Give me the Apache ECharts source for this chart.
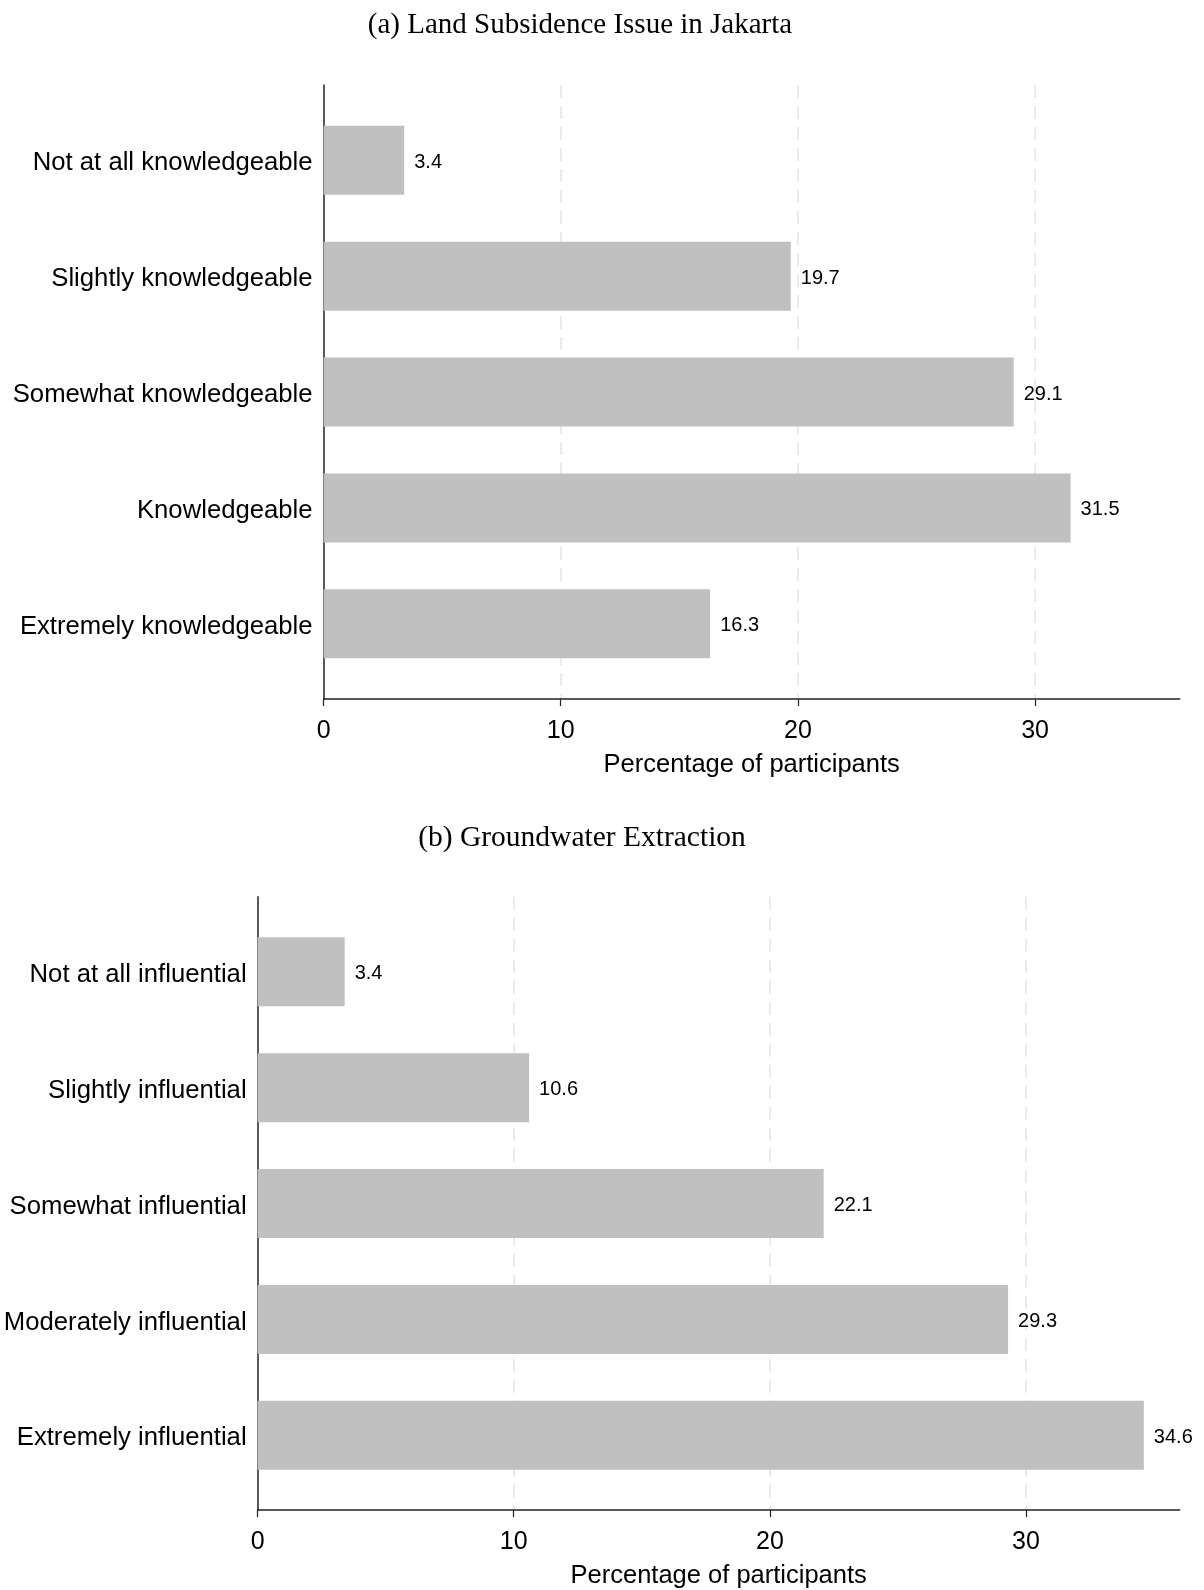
<!DOCTYPE html>
<html>
<head>
<meta charset="utf-8">
<script src="https://cdn.jsdelivr.net/npm/echarts@6/dist/echarts.min.js"></script>
<style>
html,body{margin:0;padding:0;background:#fff;}
#chart{width:1204px;height:1590px;}
</style>
</head>
<body>
<div id="chart"></div>
<script>
const titleA = '(a) Land Subsidence Issue in Jakarta';
const titleB = '(b) Groundwater Extraction';
const categoriesA = ['Not at all knowledgeable','Slightly knowledgeable','Somewhat knowledgeable','Knowledgeable','Extremely knowledgeable'];
const valuesA = [3.4, 19.7, 29.1, 31.5, 16.3];
const categoriesB = ['Not at all influential','Slightly influential','Somewhat influential','Moderately influential','Extremely influential'];
const valuesB = [3.4, 10.6, 22.1, 29.3, 34.6];
const xTicks = [0, 10, 20, 30];
const xName = 'Percentage of participants';

const SANS = "'Liberation Sans', Arial, sans-serif";
const SERIF = "'Liberation Serif', 'Times New Roman', serif";
const BAR = '#c0c0c0';

function axisX(gridIndex, max) {
  return {
    type: 'value', gridIndex: gridIndex, min: 0, max: max, interval: 10,
    axisLine: {show: true, onZero: false, lineStyle: {color: '#222', width: 1.5}},
    axisTick: {show: true, length: 7, customValues: xTicks, lineStyle: {color: '#222', width: 1.2}},
    axisLabel: {show: true, customValues: xTicks, margin: 20, fontSize: 25, color: '#000', fontFamily: SANS},
    splitLine: {show: true, showMinLine: false, showMaxLine: true, lineStyle: {color: '#ebebeb', width: 2, type: [13, 8]}},
    name: xName, nameLocation: 'middle', nameGap: 53,
    nameTextStyle: {fontSize: 25.5, color: '#000', fontFamily: SANS}
  };
}
function hiddenX(gridIndex, max) {
  return {type: 'value', gridIndex: gridIndex, min: 0, max: max, show: false, splitLine: {show: false}};
}
function lineY(gridIndex) {
  return {type: 'value', gridIndex: gridIndex, min: 0, max: 1,
    axisLine: {show: true, onZero: false, lineStyle: {color: '#222', width: 1.5}},
    axisTick: {show: false}, axisLabel: {show: false}, splitLine: {show: false}};
}
function catY(gridIndex, cats) {
  return {type: 'category', gridIndex: gridIndex, data: cats, inverse: true,
    axisLine: {show: false}, axisTick: {show: false}, splitLine: {show: false},
    axisLabel: {margin: 11, color: '#000', fontFamily: SANS, fontSize: 25.7,
      formatter: v => '{c|' + v + '}',
      rich: {c: {fontSize: 25.7, color: '#000', fontFamily: SANS, padding: [6, 0, 0, 0]}}}};
}
function barSeries(idx, vals) {
  return {type: 'bar', xAxisIndex: idx, yAxisIndex: idx, data: vals, barWidth: 69,
    itemStyle: {color: BAR}, silent: true,
    label: {show: true, position: 'right', distance: 10, fontSize: 20, color: '#000', fontFamily: SANS,
      offset: [0, 2], formatter: p => p.value.toFixed(1)}};
}

const chart = echarts.init(document.getElementById('chart'), null, {renderer: 'canvas'});
chart.setOption({
  animation: false,
  backgroundColor: '#fff',
  title: [
    {text: titleA, left: 575, top: 6, textAlign: 'center',
      textStyle: {fontFamily: SERIF, fontSize: 29, fontWeight: 'normal', color: '#000'}},
    {text: titleB, left: 577, top: 818, textAlign: 'center',
      textStyle: {fontFamily: SERIF, fontSize: 29.5, fontWeight: 'normal', color: '#000'}}
  ],
  grid: [
    {left: 323.6, right: 24.3, top: 85, height: 614},
    {left: 323.6, right: 24.3, top: 102.3, height: 579.5},
    {left: 257.6, right: 24.3, top: 896.7, height: 613.6},
    {left: 257.6, right: 24.3, top: 913.8, height: 579.5}
  ],
  xAxis: [axisX(0, 36.1), hiddenX(1, 36.1), axisX(2, 36), hiddenX(3, 36)],
  yAxis: [lineY(0), catY(1, categoriesA), lineY(2), catY(3, categoriesB)],
  series: [
    barSeries(1, valuesA),
    barSeries(3, valuesB)
  ]
});
</script>
</body>
</html>
